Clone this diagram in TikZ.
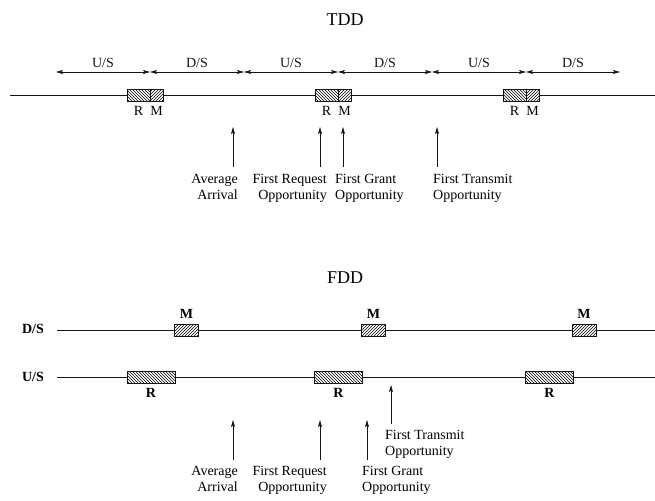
\documentclass[tikz,border=0pt]{standalone}
\usepackage{fontspec}
\setmainfont{Liberation Serif}
\usetikzlibrary{arrows.meta,patterns,positioning}
\definecolor{inkblack}{HTML}{151515}
\tikzset{
  timeline/.style={inkblack, line width=1pt},
  span/.style={inkblack, {Stealth[length=7pt,width=4pt,inset=1.5pt]}-{Stealth[length=7pt,width=4pt,inset=1.5pt]}, line width=0.7pt},
  event/.style={inkblack, -{Stealth[length=7pt,width=4pt,inset=1.5pt]}, line width=0.8pt},
  reqbox/.style={draw=inkblack, line width=0.9pt, preaction={fill=white}, pattern=north west lines, inner sep=0pt, outer sep=0pt},
  mapbox/.style={draw=inkblack, line width=0.9pt, preaction={fill=white}, pattern=north east lines, inner sep=0pt, outer sep=0pt},
  slotlabel/.style={font=\fontsize{14}{16}\selectfont, inner sep=1pt},
  boxlabel/.style={font=\fontsize{14}{16}\selectfont\bfseries, inner sep=1pt},
  eventlabel/.style={font=\fontsize{14}{16}\selectfont, inner sep=0pt},
  headline/.style={font=\fontsize{18}{20}\selectfont}
}

\begin{document}
\begin{tikzpicture}[x=1pt, y=-1pt]
  \useasboundingbox (0,0) rectangle (655,500);

  % TDD
  \node[headline] (tdd) at (345,20) {TDD};
  \foreach \i/\x in {0/56,1/150,2/244,3/338,4/432,5/526,6/620}
    \coordinate (b\i) at (\x,72);
  \foreach \a/\b/\t in {b0/b1/U,b1/b2/D,b2/b3/U,b3/b4/D,b4/b5/U,b5/b6/D}
    \draw[span] (\a) -- node[slotlabel, above=3pt] {\t/S} (\b);

  \coordinate (tddL) at (10,95.5);
  \coordinate (tddR) at (655,95.5);
  \draw[timeline] (tddL) -- (tddR);
  \foreach \k/\x in {1/150,2/338,3/526} {
    \node[reqbox, minimum width=23pt, minimum height=12pt] (tr\k) at (\x-11.5,95.5) {};
    \node[mapbox, minimum width=13pt, minimum height=12pt] (tm\k) at (\x+6.5,95.5) {};
    \node[slotlabel, below=4pt of tr\k] (trl\k) {R};
    \node[slotlabel, below=4pt of tm\k] (tml\k) {M};
  }

  \foreach \n/\x in {avg/233,req/320,grant/343,xmit/437} {
    \coordinate (t\n T) at (\x,127);
    \coordinate (t\n B) at (\x,167);
    \draw[event] (t\n B) -- (t\n T);
  }
  \node[eventlabel, anchor=north east, align=right] (tavgL) at (238,174) {Average\\Arrival};
  \node[eventlabel, anchor=north east, align=right] (treqL) at (327,174) {First Request\\Opportunity};
  \node[eventlabel, anchor=north west, align=left] (tgrantL) at (335,174) {First Grant\\Opportunity};
  \node[eventlabel, anchor=north west, align=left] (txmitL) at (433,174) {First Transmit\\Opportunity};

  % FDD
  \node[headline] (fdd) at (345,278) {FDD};
  \node[boxlabel] (dsL) at (33,329) {D/S};
  \node[boxlabel] (usL) at (33,377) {U/S};
  \coordinate (dsA) at (57,330);
  \coordinate (dsB) at (655,330);
  \coordinate (usA) at (57,377);
  \coordinate (usB) at (655,377);
  \draw[timeline] (dsA) -- (dsB);
  \draw[timeline] (usA) -- (usB);
  \foreach \k/\x in {1/186.5,2/373.5,3/584} {
    \node[mapbox, minimum width=24pt, minimum height=12pt] (fm\k) at (\x,330) {};
    \node[boxlabel, above=4pt of fm\k] (fml\k) {M};
  }
  \foreach \k/\x in {1/151,2/338.5,3/549.5} {
    \node[reqbox, minimum width=48pt, minimum height=12pt] (fr\k) at (\x,377) {};
    \node[boxlabel, below=4pt of fr\k] (frl\k) {R};
  }

  \foreach \n/\x in {avg/233,req/320,grant/367} {
    \coordinate (f\n T) at (\x,420);
    \coordinate (f\n B) at (\x,460);
    \draw[event] (f\n B) -- (f\n T);
  }
  \coordinate (fxmitT) at (391,385);
  \coordinate (fxmitB) at (391,424);
  \draw[event] (fxmitB) -- (fxmitT);
  \node[eventlabel, anchor=north east, align=right] (favgL) at (238,466) {Average\\Arrival};
  \node[eventlabel, anchor=north east, align=right] (freqL) at (327,466) {First Request\\Opportunity};
  \node[eventlabel, anchor=north west, align=left] (fgrantL) at (362,466) {First Grant\\Opportunity};
  \node[eventlabel, anchor=north west, align=left] (fxmitL) at (385,430) {First Transmit\\Opportunity};
\end{tikzpicture}
\end{document}
